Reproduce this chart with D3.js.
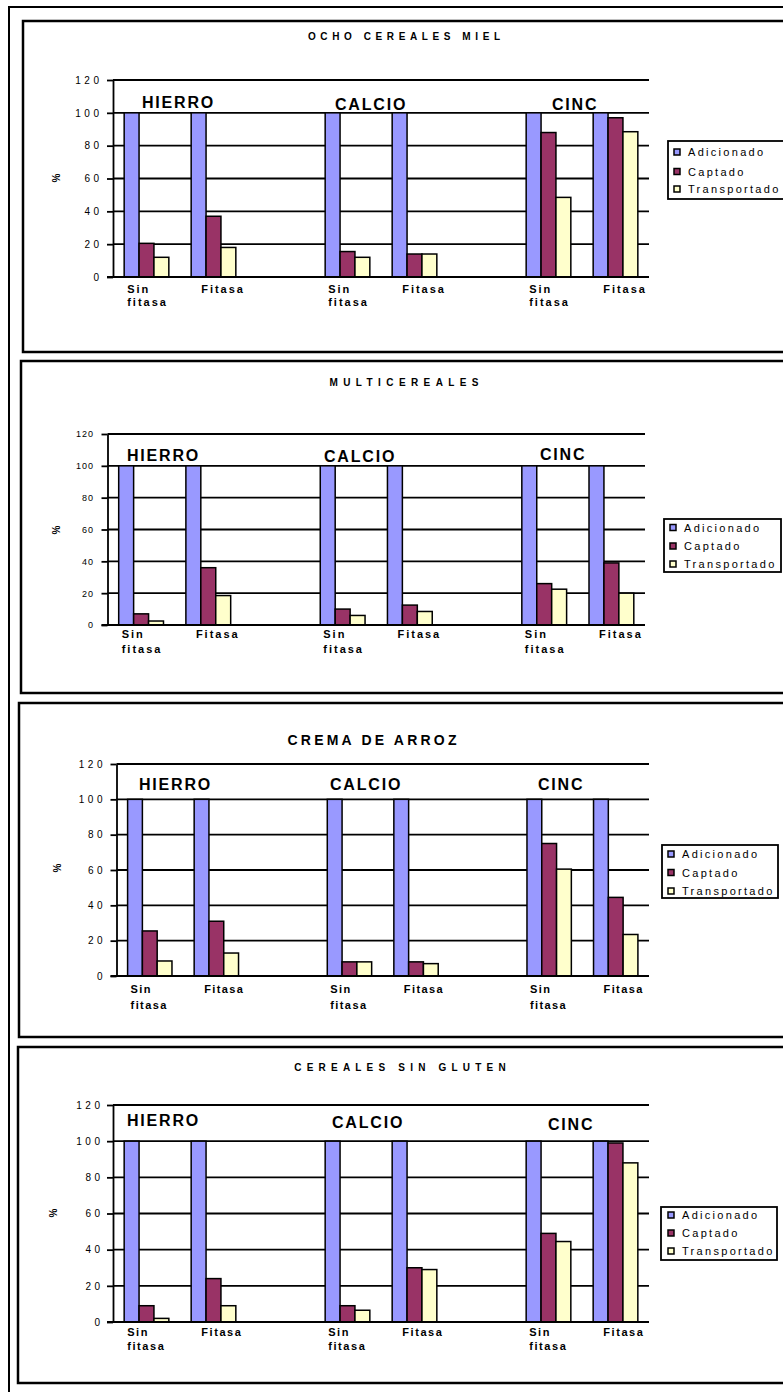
<!DOCTYPE html>
<html>
<head>
<meta charset="utf-8">
<script src="https://cdn.jsdelivr.net/npm/d3@7"></script>
<style>
  body { margin: 0; background: #fff; }
  svg { display: block; font-family: "Liberation Sans", Arial, sans-serif; }
</style>
</head>
<body>
<div id="wrapper"></div>
<script>
// 1. Data
const panelTitles = ["OCHO CEREALES MIEL", "MULTICEREALES", "CREMA DE ARROZ", "CEREALES SIN GLUTEN"]
const minerals = ["HIERRO", "CALCIO", "CINC"]
const treatments = ["Sin fitasa", "Fitasa"]
const seriesNames = ["Adicionado", "Captado", "Transportado"]
const yTicks = [0, 20, 40, 60, 80, 100, 120]

// order: HIERRO Sin, HIERRO Fitasa, CALCIO Sin, CALCIO Fitasa, CINC Sin, CINC Fitasa
const adicionado = [
    [100, 100, 100, 100, 100, 100],
    [100, 100, 100, 100, 100, 100],
    [100, 100, 100, 100, 100, 100],
    [100, 100, 100, 100, 100, 100],
]
const captado = [
    [20.5, 37, 15.5, 14, 88, 97],
    [7, 36, 10, 12.5, 26, 39],
    [25.5, 31, 8, 8, 75, 44.5],
    [9, 24, 9, 30, 49, 99],
]
const transportado = [
    [12, 18, 12, 14, 48.5, 88.5],
    [2.5, 18.5, 6, 8.5, 22.5, 20],
    [8.5, 13, 8, 7, 60.5, 23.5],
    [2, 9, 6.5, 29, 44.5, 88],
]

const colors = {
    "Adicionado": "#9999ff",
    "Captado": "#993366",
    "Transportado": "#ffffcc",
}

// 2. Layout of each panel (pixel positions, styles)
const layouts = [
    { box: [23, 21, 352], x0: 113, x1: 649, yTop: 80, yBot: 277,
      title: { x: 404, y: 40, size: 10, ls: 4.6 },
      tick: { size: 10, ls: 3.5, gap: 10.5 },
      groups: [[142, 108], [335, 110], [552, 110]],
      cat: { size: 11, ls: 2, dy1: 15.5, dy2: 29 },
      pct: [56, 178],
      legend: { x: 668, y: 141, w: 116, h: 58, tx: 688, rows: [156, 175.5, 193] } },
    { box: [21, 361, 693], x0: 107.5, x1: 645, yTop: 434, yBot: 625,
      title: { x: 404, y: 386, size: 10, ls: 5.4 },
      tick: { size: 9, ls: 1, gap: 13.4 },
      groups: [[127, 460.5], [324, 461.5], [540, 460]],
      cat: { size: 11, ls: 2, dy1: 13, dy2: 28 },
      pct: [56, 530],
      legend: { x: 664, y: 519, w: 117, h: 53, tx: 684, rows: [531.5, 550, 568] } },
    { box: [19, 703, 1037], x0: 116.5, x1: 649, yTop: 764, yBot: 976,
      title: { x: 372, y: 745, size: 14, ls: 3.2 },
      tick: { size: 10, ls: 3.5, gap: 10.5 },
      groups: [[139, 790], [330, 790], [538, 790]],
      cat: { size: 11, ls: 1.4, dy1: 17, dy2: 33 },
      pct: [57, 868],
      legend: { x: 662, y: 845, w: 116, h: 53, tx: 682, rows: [858, 876.5, 895] } },
    { box: [18, 1047, 1383], x0: 113, x1: 649, yTop: 1105, yBot: 1322,
      title: { x: 400, y: 1071, size: 10, ls: 5.2 },
      tick: { size: 10, ls: 3.5, gap: 9.5 },
      groups: [[127, 1126], [332, 1128], [548, 1130]],
      cat: { size: 11, ls: 1.6, dy1: 14, dy2: 28 },
      pct: [53, 1213],
      legend: { x: 661, y: 1207, w: 116, h: 53, tx: 682, rows: [1219, 1237, 1255] } },
]

// 3. Canvas
const width = 783
const height = 1392

const wrapper = d3.select("#wrapper")
    .append("svg")
    .attr("width", width)
    .attr("height", height)

// outer frame
wrapper.append("rect")
    .attr("x", 9)
    .attr("y", 7)
    .attr("width", 900)
    .attr("height", 1500)
    .attr("fill", "none")
    .attr("stroke", "black")
    .attr("stroke-width", 2)

// slots: mineral x treatment, with an empty slot between minerals
const slots = []
minerals.forEach((m, mi) => {
    treatments.forEach(t => slots.push(m + "|" + t))
    if (mi < minerals.length - 1) slots.push("gap" + mi)
})

// 4. Draw each panel
layouts.forEach((lay, pi) => {
    const g = wrapper.append("g")

    g.append("rect")
        .attr("x", lay.box[0])
        .attr("y", lay.box[1])
        .attr("width", 900)
        .attr("height", lay.box[2] - lay.box[1])
        .attr("fill", "white")
        .attr("stroke", "black")
        .attr("stroke-width", 2.5)

    const rows = []
    minerals.forEach((m, mi) => {
        treatments.forEach((t, ti) => {
            const i = mi * 2 + ti
            rows.push({
                slot: m + "|" + t,
                treatment: t,
                Adicionado: adicionado[pi][i],
                Captado: captado[pi][i],
                Transportado: transportado[pi][i],
            })
        })
    })

    const xScale = d3.scaleBand()
        .domain(slots)
        .range([lay.x0, lay.x1])

    const barW = xScale.bandwidth() / 4.5  // gap width 150%

    const seriesScale = d3.scaleBand()
        .domain(seriesNames)
        .range([0, barW * 3])

    const yScale = d3.scaleLinear()
        .domain([0, 120])
        .range([lay.yBot, lay.yTop])

    // gridlines
    g.append("g")
        .selectAll("line")
        .data(yTicks.filter(d => d > 0))
        .join("line")
        .attr("x1", lay.x0)
        .attr("x2", lay.x1)
        .attr("y1", d => yScale(d))
        .attr("y2", d => yScale(d))
        .attr("stroke", "black")
        .attr("stroke-width", 1.8)

    // bars
    const bars = g.append("g")
        .selectAll("g")
        .data(rows)
        .join("g")
        .attr("transform", d => `translate(${xScale(d.slot) + barW * 0.75},0)`)

    bars.selectAll("rect")
        .data(d => seriesNames.map(s => ({ key: s, value: d[s] })))
        .join("rect")
        .attr("x", d => seriesScale(d.key))
        .attr("width", seriesScale.bandwidth())
        .attr("y", d => yScale(d.value))
        .attr("height", d => yScale(0) - yScale(d.value))
        .attr("fill", d => colors[d.key])
        .attr("stroke", "black")
        .attr("stroke-width", 1.5)

    // y axis
    const yAxisGenerator = d3.axisLeft(yScale)
        .tickValues(yTicks)
        .tickSizeInner(6)
        .tickSizeOuter(0)
        .tickPadding(lay.tick.gap - 6)

    const yAxis = g.append("g")
        .attr("transform", `translate(${lay.x0},0)`)
        .call(yAxisGenerator)

    yAxis.select(".domain").attr("stroke", "black").attr("stroke-width", 1.8)
    yAxis.selectAll(".tick line").attr("stroke", "black").attr("stroke-width", 1.8)
    yAxis.selectAll(".tick text")
        .attr("fill", "black")
        .style("font-size", lay.tick.size + "px")
        .style("letter-spacing", lay.tick.ls + "px")
        .style("font-family", "Liberation Sans, Arial, sans-serif")

    // x axis baseline
    g.append("line")
        .attr("x1", lay.x0 - 6)
        .attr("x2", lay.x1)
        .attr("y1", yScale(0))
        .attr("y2", yScale(0))
        .attr("stroke", "black")
        .attr("stroke-width", 1.8)

    // category labels
    rows.forEach(d => {
        const left = xScale(d.slot) + barW * 0.75
        const t = g.append("text")
            .attr("font-weight", "bold")
            .style("font-size", lay.cat.size + "px")
            .style("letter-spacing", lay.cat.ls + "px")
            .attr("fill", "black")
        if (d.treatment === "Sin fitasa") {
            t.append("tspan").attr("x", left + 3).attr("y", yScale(0) + lay.cat.dy1).text("Sin")
            t.append("tspan").attr("x", left + 3).attr("y", yScale(0) + lay.cat.dy2).text("fitasa")
        } else {
            t.attr("x", left + 10).attr("y", yScale(0) + lay.cat.dy1).text("Fitasa")
        }
    })

    // mineral labels
    minerals.forEach((m, mi) => {
        g.append("text")
            .attr("x", lay.groups[mi][0])
            .attr("y", lay.groups[mi][1])
            .attr("font-weight", "bold")
            .style("font-size", "16px")
            .style("letter-spacing", "1.8px")
            .attr("fill", "black")
            .text(m)
    })

    // title
    g.append("text")
        .attr("x", lay.title.x + lay.title.ls / 2)
        .attr("y", lay.title.y)
        .attr("text-anchor", "middle")
        .attr("font-weight", "bold")
        .style("font-size", lay.title.size + "px")
        .style("letter-spacing", lay.title.ls + "px")
        .text(panelTitles[pi])

    // y label
    g.append("text")
        .attr("transform", `translate(${lay.pct[0]},${lay.pct[1]}) rotate(-90)`)
        .attr("text-anchor", "middle")
        .attr("dy", "0.35em")
        .attr("font-weight", "bold")
        .style("font-size", "10px")
        .text("%")

    // legend
    const lg = lay.legend
    g.append("rect")
        .attr("x", lg.x)
        .attr("y", lg.y)
        .attr("width", lg.w)
        .attr("height", lg.h)
        .attr("fill", "white")
        .attr("stroke", "black")
        .attr("stroke-width", 1.8)

    seriesNames.forEach((s, si) => {
        g.append("rect")
            .attr("x", lg.tx - 14)
            .attr("y", lg.rows[si] - 7)
            .attr("width", 6)
            .attr("height", 6)
            .attr("fill", colors[s])
            .attr("stroke", "black")
            .attr("stroke-width", 1.5)
        g.append("text")
            .attr("x", lg.tx)
            .attr("y", lg.rows[si])
            .style("font-size", "11px")
            .style("letter-spacing", "2.3px")
            .text(s)
    })
})
</script>
</body>
</html>
